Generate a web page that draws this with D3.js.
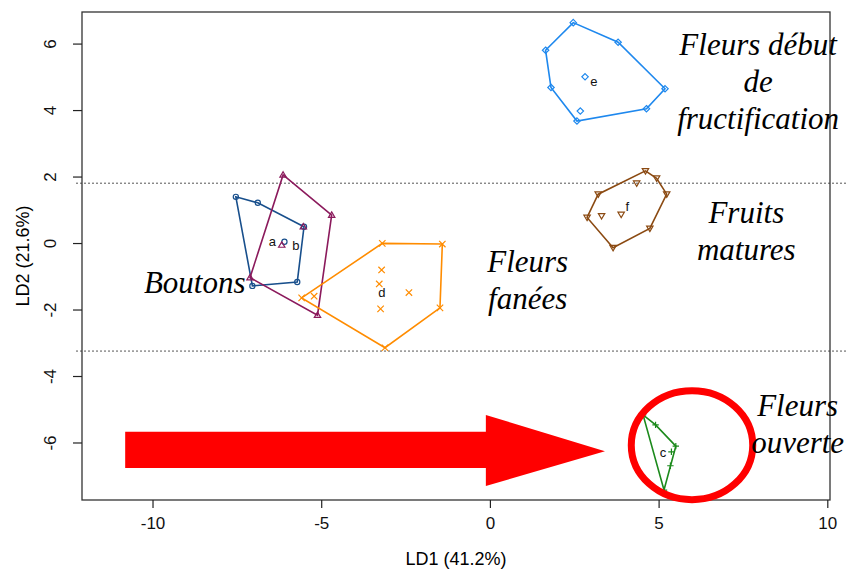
<!DOCTYPE html>
<html><head><meta charset="utf-8">
<script src="https://cdn.jsdelivr.net/npm/d3@7"></script>
<style>
body{margin:0;background:#fff}
.sans{font-family:"Liberation Sans", Arial, Helvetica, sans-serif}
.serif{font-family:"Liberation Serif", "Times New Roman", Times, serif;font-style:italic}
</style>
</head><body>
<svg id="c" width="846" height="573"></svg>
<script>
// ---- data (LD1, LD2) ----
const groupA = [[-7.53,1.39],[-6.88,1.21],[-5.51,0.49],[-5.71,-1.17],[-7.04,-1.29],[-6.09,0.04]];
const groupB = [[-6.13,2.05],[-4.69,0.84],[-5.11,-2.17],[-7.11,-1.04],[-5.53,0.49],[-6.17,-0.06]];
const groupC = [[4.54,-5.17],[5.51,-6.11],[5.16,-7.43],[4.91,-5.47],[5.38,-6.28],[5.35,-6.70]];
const groupD = [[-3.19,-0.01],[-1.41,-0.03],[-1.48,-1.95],[-3.11,-3.15],[-5.58,-1.65],[-5.21,-1.60],[-3.21,-0.81],[-3.28,-1.23],[-2.40,-1.49],[-3.24,-1.98]];
const groupE = [[2.47,6.63],[3.80,6.04],[5.19,4.64],[4.64,4.04],[2.58,3.67],[1.81,4.68],[1.65,5.80],[2.82,5.00],[2.68,3.97]];
const groupF = [[4.61,2.17],[4.94,1.95],[5.24,1.47],[4.74,0.44],[3.65,-0.14],[2.88,0.77],[3.21,1.47],[4.35,1.80],[3.31,0.82],[3.89,0.86]];
const groupNames = ["a","b","c","d","e","f"];
const groupLabelPos = [[-6.45,0.04],[-5.75,-0.06],[5.13,-6.30],[-3.20,-1.48],[3.08,4.87],[4.07,1.11]];
const xTicks = [-10,-5,0,5,10];
const yTicks = [-6,-4,-2,0,2,4,6];
const cutLines = [1.80,-3.25];
const annotations = [
  {lines:["Fleurs début","de","fructification"], x:7.95, y:5.66},
  {lines:["Fruits","matures"], x:7.60, y:0.60},
  {lines:["Fleurs","fanées"], x:1.12, y:-0.87},
  {lines:["Boutons"], x:-8.75, y:-1.50},
  {lines:["Fleurs","ouverte"], x:9.12, y:-5.20}
];
const arrowPts = [[-10.81,-5.68],[-0.12,-5.68],[-0.12,-5.17],[3.41,-6.26],[-0.12,-7.31],[-0.12,-6.77],[-10.81,-6.77]];
const ellipseCenter = [5.99,-6.08], ellipseRadii = [1.80,1.64];

const groups = [groupA,groupB,groupC,groupD,groupE,groupF];
const colors = ["#184f8c","#8b1a5c","#1c8a1c","#ff8c00","#1e88ee","#8b4a12"];
const shapes = ["circle","tri","plus","cross","diamond","itri"];

const svg = d3.select("#c");
const L=82,R=830,T=12,B=500;
const x = d3.scaleLinear().domain([-12.09,10.08]).range([L,R]);
const y = d3.scaleLinear().domain([-7.73,6.95]).range([B,T]);

// cut lines
svg.selectAll(".cut").data(cutLines).join("line")
  .attr("x1",76).attr("x2",846).attr("y1",d=>y(d)).attr("y2",d=>y(d))
  .attr("stroke","#555").attr("stroke-width",1).attr("stroke-dasharray","2,2");

// box
svg.append("rect").attr("x",L).attr("y",T).attr("width",R-L).attr("height",B-T)
  .attr("fill","none").attr("stroke","#333").attr("stroke-width",1.3);

// axes
const fmt = d=>String(d);
const xa = svg.append("g").attr("transform",`translate(0,${B})`)
  .call(d3.axisBottom(x).tickValues(xTicks).tickSize(8).tickPadding(9).tickFormat(fmt));
const ya = svg.append("g").attr("transform",`translate(${L},0)`)
  .call(d3.axisLeft(y).tickValues(yTicks).tickSize(9).tickPadding(6).tickFormat(fmt));
[xa,ya].forEach(g=>{
  g.attr("font-family",null).attr("font-size",null);
  g.select(".domain").remove();
  g.selectAll("line").attr("stroke","#222").attr("stroke-width",1.2);
  g.selectAll("text").attr("class","sans").style("font-size","17px").attr("fill","#111");
});
ya.selectAll("text").attr("text-anchor","middle").attr("dy",null).attr("x",null)
  .attr("transform","translate(-32,0) rotate(-90) translate(0,6)");

svg.append("text").attr("class","sans").attr("x",(L+R)/2).attr("y",565).attr("text-anchor","middle")
  .style("font-size","18px").text("LD1 (41.2%)");
svg.append("text").attr("class","sans").attr("transform",`translate(29,${(T+B)/2}) rotate(-90)`).attr("text-anchor","middle")
  .style("font-size","18px").text("LD2 (21.6%)");

// hulls & points
function sym(g,shape,px,py,col){
  const s=3.2;
  if(shape==="circle") g.append("circle").attr("cx",px).attr("cy",py).attr("r",2.6).attr("fill","none").attr("stroke",col).attr("stroke-width",1.2);
  else if(shape==="tri") g.append("path").attr("d",`M${px},${py-s}L${px+s},${py+s*0.7}L${px-s},${py+s*0.7}Z`).attr("fill","none").attr("stroke",col).attr("stroke-width",1.2);
  else if(shape==="itri") g.append("path").attr("d",`M${px},${py+s}L${px+s},${py-s*0.7}L${px-s},${py-s*0.7}Z`).attr("fill","none").attr("stroke",col).attr("stroke-width",1.2);
  else if(shape==="diamond") g.append("path").attr("d",`M${px},${py-s}L${px+s},${py}L${px},${py+s}L${px-s},${py}Z`).attr("fill","none").attr("stroke",col).attr("stroke-width",1.2);
  else if(shape==="plus") g.append("path").attr("d",`M${px-s},${py}H${px+s}M${px},${py-s}V${py+s}`).attr("stroke",col).attr("stroke-width",1.2);
  else if(shape==="cross") g.append("path").attr("d",`M${px-s},${py-s}L${px+s},${py+s}M${px-s},${py+s}L${px+s},${py-s}`).attr("stroke",col).attr("stroke-width",1.2);
}
groups.forEach((pts,i)=>{
  const g = svg.append("g");
  const hull = d3.polygonHull(pts.map(p=>[x(p[0]),y(p[1])]));
  g.append("path").attr("d","M"+hull.join("L")+"Z").attr("fill","none").attr("stroke",colors[i]).attr("stroke-width",1.6);
  pts.forEach(p=>sym(g,shapes[i],x(p[0]),y(p[1]),colors[i]));
  g.append("text").attr("class","sans").attr("x",x(groupLabelPos[i][0])).attr("y",y(groupLabelPos[i][1])).attr("dy","0.35em")
    .attr("text-anchor","middle").style("font-size","13px").attr("fill","#111")
    .text(groupNames[i]);
});

// arrow
svg.append("path").attr("d","M"+arrowPts.map(p=>[x(p[0]),y(p[1])]).join("L")+"Z").attr("fill","#ff0000");
svg.append("ellipse").attr("cx",x(ellipseCenter[0])).attr("cy",y(ellipseCenter[1]))
  .attr("rx",x(ellipseCenter[0]+ellipseRadii[0])-x(ellipseCenter[0]))
  .attr("ry",y(ellipseCenter[1])-y(ellipseCenter[1]+ellipseRadii[1]))
  .attr("fill","none").attr("stroke","#ff0000").attr("stroke-width",7);

// annotations
annotations.forEach(a=>{
  const t = svg.append("text").attr("class","serif").attr("x",x(a.x)).attr("y",y(a.y)).attr("text-anchor","middle")
    .style("font-size","31px").attr("fill","#000");
  a.lines.forEach((ln,k)=>t.append("tspan").attr("x",x(a.x)).attr("dy",k===0?0:37).text(ln));
});
</script>
</body></html>
